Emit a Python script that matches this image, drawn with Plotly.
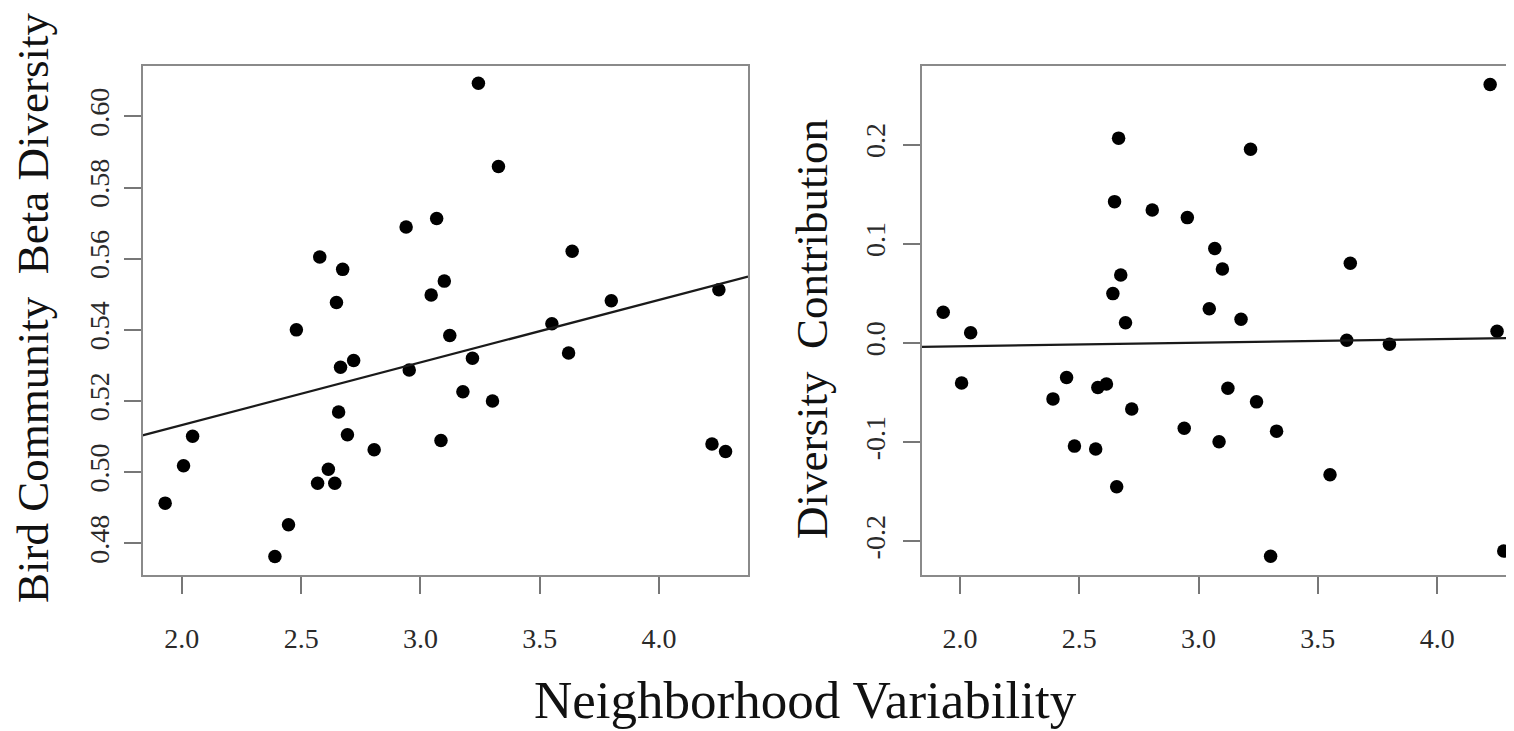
import plotly.graph_objects as go

# ---- data ----
neighborhood_var = [1.930, 2.007, 2.045, 2.390, 2.447, 2.480, 2.569, 2.578, 2.614, 2.641,
                    2.648, 2.657, 2.665, 2.674, 2.694, 2.720, 2.806, 2.940, 2.953, 3.045,
                    3.068, 3.086, 3.100, 3.123, 3.178, 3.218, 3.243, 3.302, 3.327, 3.551,
                    3.621, 3.636, 3.800, 4.222, 4.251, 4.279]

beta_div = [0.4913, 0.5018, 0.5101, 0.4763, 0.4852, 0.5400, 0.4969, 0.5605, 0.5008, 0.4969,
            0.5477, 0.5169, 0.5295, 0.5570, 0.5105, 0.5314, 0.5063, 0.5689, 0.5287, 0.5498,
            0.5713, 0.5089, 0.5537, 0.5384, 0.5226, 0.5320, 0.6093, 0.5200, 0.5859, 0.5417,
            0.5335, 0.5621, 0.5482, 0.5079, 0.5513, 0.5058]

div_contrib = [0.0310, -0.0402, 0.0104, -0.0563, -0.0347, -0.1039, -0.1069, -0.0448, -0.0412, 0.0498,
               0.1425, -0.1449, 0.2065, 0.0686, 0.0204, -0.0664, 0.1340, -0.0858, 0.1264, 0.0345,
               0.0952, -0.0994, 0.0746, -0.0455, 0.0240, 0.1952, -0.0593, -0.2150, -0.0888, -0.1328,
               0.0028, 0.0804, -0.0012, 0.2606, 0.0119, -0.2097]

# fitted lines (intercept, slope)
fit_left = (0.4781, 0.01758)
fit_right = (-0.0105, 0.00361)

x_ticks = [2.0, 2.5, 3.0, 3.5, 4.0]
x_ticklabels = ["2.0", "2.5", "3.0", "3.5", "4.0"]
yl_ticks = [0.48, 0.50, 0.52, 0.54, 0.56, 0.58, 0.60]
yl_ticklabels = ["0.48", "0.50", "0.52", "0.54", "0.56", "0.58", "0.60"]
yr_ticks = [-0.2, -0.1, 0.0, 0.1, 0.2]
yr_ticklabels = ["-0.2", "-0.1", "0.0", "0.1", "0.2"]

left_title = "Bird Community\u00a0 Beta Diversity"
right_title = "Diversity\u00a0 Contribution"
bottom_title = "Neighborhood Variability"

# ---- layout geometry ----
W, H = 1514, 731
OFF = 8  # page body margin of the html page


def px(xp):
    return (xp - OFF) / W


def py(yp):
    return 1 - (yp - OFF) / H


xl_range = [1.835, 4.373]
xr_range = [1.839, 4.322]
yl_range = [0.4711, 0.6143]
yr_range = [-0.2338, 0.2797]

FONT = "Liberation Serif, Times New Roman, serif"
BORDER = "#8a8a8a"
TICKC = "#777777"

fig = go.Figure()

fig.add_trace(go.Scatter(x=neighborhood_var, y=beta_div, mode="markers",
                         marker=dict(color="black", size=13.5), xaxis="x", yaxis="y",
                         showlegend=False, hoverinfo="x+y"))
fig.add_trace(go.Scatter(x=xl_range, y=[fit_left[0] + fit_left[1] * v for v in xl_range],
                         mode="lines", line=dict(color="#1a1a1a", width=2.2),
                         xaxis="x", yaxis="y", showlegend=False, hoverinfo="skip"))

fig.add_trace(go.Scatter(x=neighborhood_var, y=div_contrib, mode="markers",
                         marker=dict(color="black", size=13.5), xaxis="x2", yaxis="y2",
                         showlegend=False, hoverinfo="x+y"))
fig.add_trace(go.Scatter(x=xr_range, y=[fit_right[0] + fit_right[1] * v for v in xr_range],
                         mode="lines", line=dict(color="#1a1a1a", width=2.2),
                         xaxis="x2", yaxis="y2", showlegend=False, hoverinfo="skip"))

ydom = [py(575), py(65.5)]

common_axis = dict(showgrid=False, zeroline=False, showline=True, linecolor=BORDER, linewidth=2,
                   ticks="outside", ticklen=17, tickwidth=2, tickcolor=TICKC,
                   tickfont=dict(family=FONT, size=28, color="#2a2a2a"),
                   automargin=False, fixedrange=True)

fig.update_layout(
    width=W, height=H,
    margin=dict(l=0, r=0, t=0, b=0),
    paper_bgcolor="white", plot_bgcolor="white",
    xaxis=dict(domain=[px(142.5), px(748)], range=xl_range, anchor="y", mirror=True,
               tickmode="array", tickvals=x_ticks, ticktext=x_ticklabels,
               ticklabelstandoff=20, **common_axis),
    yaxis=dict(domain=ydom, range=yl_range, anchor="x", mirror=True,
               tickmode="array", tickvals=yl_ticks, ticktext=yl_ticklabels,
               tickangle=-90, ticklabelstandoff=3, **common_axis),
    xaxis2=dict(domain=[px(921.5), px(1514)], range=xr_range, anchor="y2", mirror=True,
                tickmode="array", tickvals=x_ticks, ticktext=x_ticklabels,
                ticklabelstandoff=20, **common_axis),
    yaxis2=dict(domain=ydom, range=yr_range, anchor="x2", mirror=False,
                tickmode="array", tickvals=yr_ticks, ticktext=yr_ticklabels,
                tickangle=-90, ticklabelstandoff=6, **common_axis),
    annotations=[
        dict(text=left_title, xref="paper", yref="paper", x=px(33), y=py(308),
             xanchor="center", yanchor="middle", textangle=-90, showarrow=False,
             font=dict(family=FONT, size=45, color="#111111")),
        dict(text=right_title, xref="paper", yref="paper", x=px(812), y=py(329),
             xanchor="center", yanchor="middle", textangle=-90, showarrow=False,
             font=dict(family=FONT, size=45, color="#111111")),
        dict(text=bottom_title, xref="paper", yref="paper", x=px(805), y=py(700),
             xanchor="center", yanchor="middle", showarrow=False,
             font=dict(family=FONT, size=53, color="#111111")),
    ],
)

fig.write_html("out.html")
